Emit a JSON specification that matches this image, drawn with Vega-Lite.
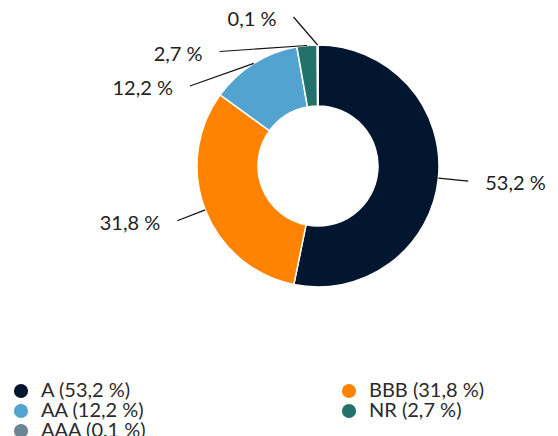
{
  "$schema": "https://vega.github.io/schema/vega-lite/v6.json",
  "width": 480,
  "height": 332,
  "autosize": "none",
  "padding": {"left": 78, "top": 0, "right": 0, "bottom": 104},
  "background": "white",
  "config": {"view": {"stroke": null}, "font": "Lato"},
  "data": {
    "values": [
      {"name": "A", "value": 53.2},
      {"name": "BBB", "value": 31.8},
      {"name": "AA", "value": 12.2},
      {"name": "NR", "value": 2.7},
      {"name": "AAA", "value": 0.1}
    ]
  },
  "transform": [
    {"window": [{"op": "row_number", "as": "idx"}]},
    {"joinaggregate": [{"op": "sum", "field": "value", "as": "total"}]},
    {"window": [{"op": "sum", "field": "value", "as": "cum"}], "sort": [{"field": "idx"}], "frame": [null, 0]},
    {"calculate": "2*PI*(datum.cum - datum.value/2)/datum.total", "as": "mid"},
    {"calculate": "sin(datum.mid) < 0 ? -1 : 1", "as": "side"},
    {"window": [{"op": "row_number", "as": "k"}], "groupby": ["side"], "sort": [{"field": "idx", "order": "descending"}]},
    {"calculate": "min(151*cos(datum.mid), 149 - 34.5*(datum.k-1))", "as": "ly"},
    {"calculate": "datum.side*sqrt(151*151 - datum.ly*datum.ly)", "as": "lx"},
    {"calculate": "121*sin(datum.mid)", "as": "x0"},
    {"calculate": "121*cos(datum.mid)", "as": "y0"},
    {"calculate": "datum.lx + datum.side*17", "as": "tx"},
    {"calculate": "datum.ly - 3", "as": "ty"},
    {"calculate": "replace(format(datum.value,'.1f'),'.',',') + ' %'", "as": "pct"},
    {"calculate": "datum.name + ' (' + datum.pct + ')'", "as": "leg"}
  ],
  "layer": [
    {
      "mark": {"type": "arc", "outerRadius": 121, "innerRadius": 60, "stroke": "white", "strokeWidth": 1.5},
      "encoding": {
        "theta": {"field": "value", "type": "quantitative", "stack": true},
        "order": {"field": "idx", "type": "quantitative"},
        "color": {
          "field": "leg",
          "type": "nominal",
          "sort": {"field": "idx", "op": "min"},
          "scale": {"range": ["#03162F", "#FF8200", "#52A3D0", "#22726B", "#6B8594"]},
          "legend": {
            "title": null,
            "orient": "none",
            "direction": "horizontal",
            "legendX": -67,
            "legendY": 381,
            "columns": 2,
            "columnPadding": 192,
            "rowPadding": 0,
            "symbolType": "circle",
            "symbolSize": 200,
            "symbolStrokeWidth": 0,
            "labelFont": "Lato",
            "labelFontSize": 20,
            "labelColor": "#2a2a2a",
            "labelOffset": 10,
            "labelLimit": 0,
            "padding": 0
          }
        }
      }
    },
    {
      "mark": {"type": "rule", "color": "#111111", "strokeWidth": 1.2},
      "encoding": {
        "x": {"field": "x0", "type": "quantitative", "scale": {"domain": [-240, 240], "nice": false, "zero": false}, "axis": null},
        "y": {"field": "y0", "type": "quantitative", "scale": {"domain": [-166, 166], "nice": false, "zero": false}, "axis": null},
        "x2": {"field": "lx"},
        "y2": {"field": "ly"}
      }
    },
    {
      "transform": [{"filter": "datum.side < 0"}],
      "mark": {"type": "text", "align": "right", "baseline": "middle", "font": "Lato", "fontSize": 20, "color": "#222222"},
      "encoding": {
        "x": {"field": "tx", "type": "quantitative", "scale": {"domain": [-240, 240], "nice": false, "zero": false}, "axis": null},
        "y": {"field": "ty", "type": "quantitative", "scale": {"domain": [-166, 166], "nice": false, "zero": false}, "axis": null},
        "text": {"field": "pct"}
      }
    },
    {
      "transform": [{"filter": "datum.side > 0"}],
      "mark": {"type": "text", "align": "left", "baseline": "middle", "font": "Lato", "fontSize": 20, "color": "#222222"},
      "encoding": {
        "x": {"field": "tx", "type": "quantitative", "scale": {"domain": [-240, 240], "nice": false, "zero": false}, "axis": null},
        "y": {"field": "ty", "type": "quantitative", "scale": {"domain": [-166, 166], "nice": false, "zero": false}, "axis": null},
        "text": {"field": "pct"}
      }
    }
  ]
}
